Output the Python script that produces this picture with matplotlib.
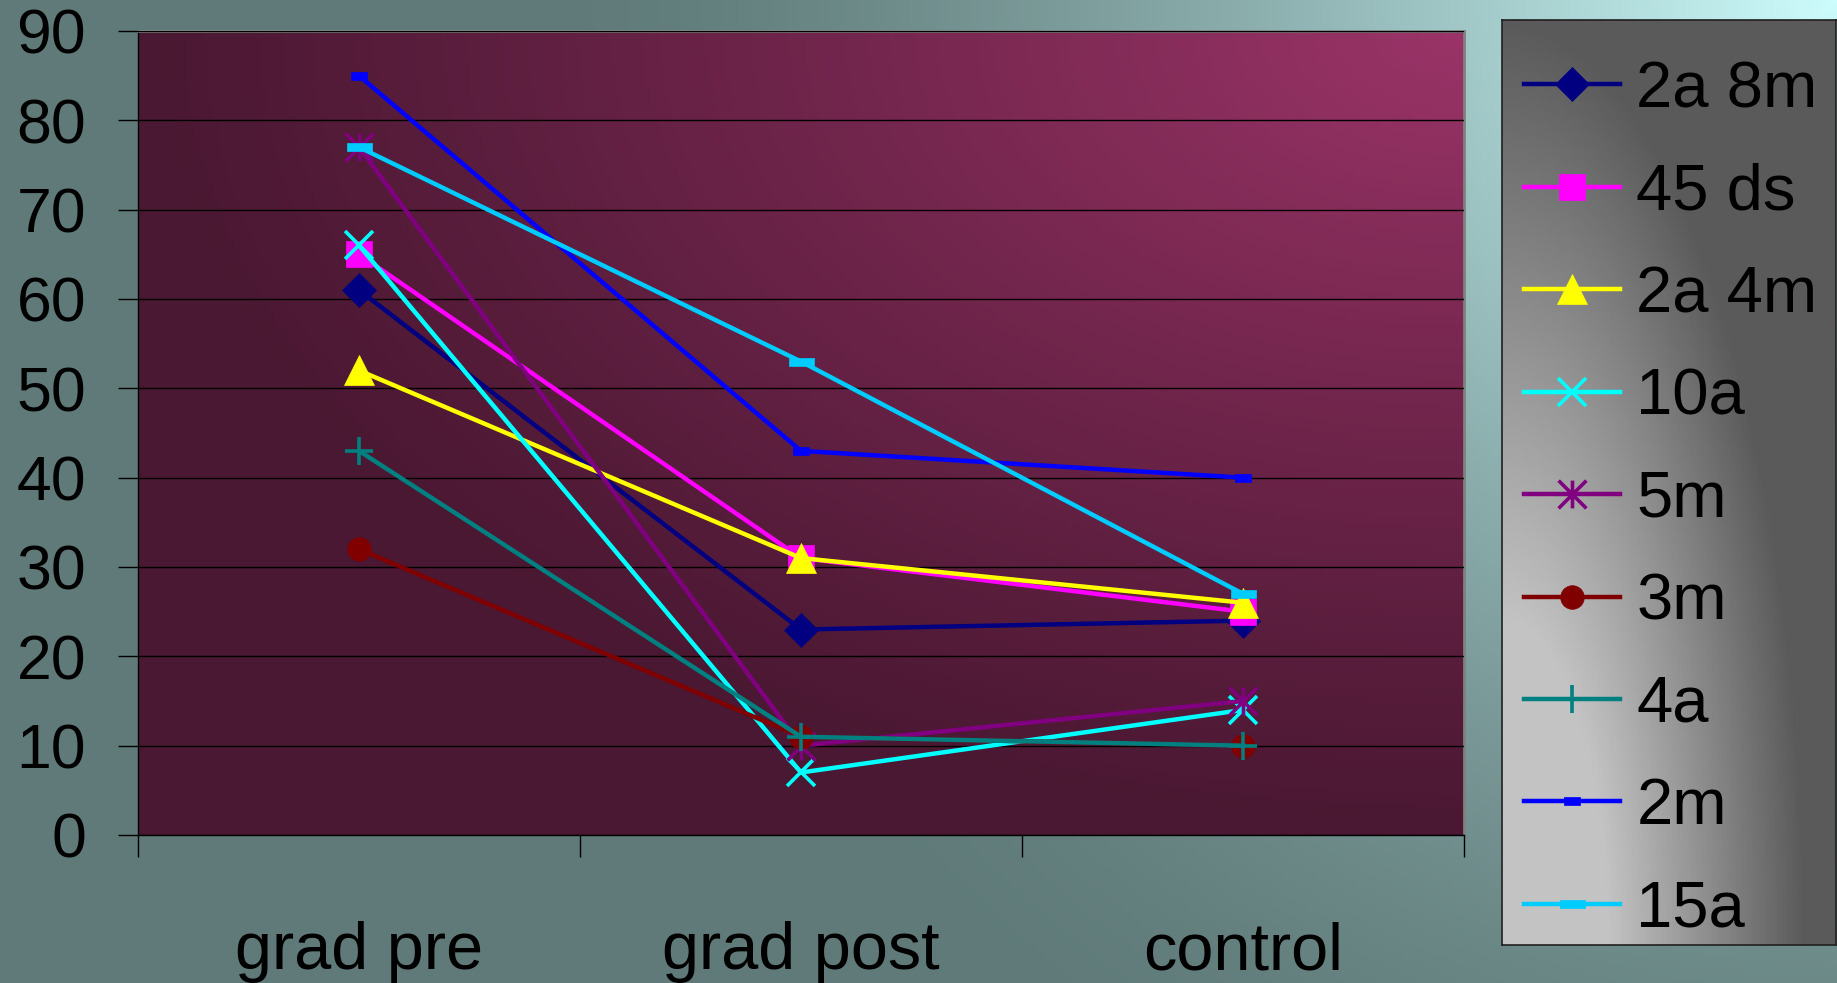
import numpy as np
import matplotlib
matplotlib.use("Agg")
import matplotlib.pyplot as plt
from matplotlib.path import Path

plt.rcParams["font.family"] = ["Liberation Sans", "DejaVu Sans"]

categories = ["grad pre", "grad post", "control"]
series_names = ["2a 8m", "45 ds", "2a 4m", "10a", "5m", "3m", "4a", "2m", "15a"]
s_2a_8m = [61, 23, 24]
s_45_ds = [65, 31, 25]
s_2a_4m = [52, 31, 26]
s_10a = [66, 7, 14]
s_5m = [77, 10, 15]
s_3m = [32, 11, 10]
s_4a = [43, 11, 10]
s_2m = [85, 43, 40]
s_15a = [77, 53, 27]
series_values = [s_2a_8m, s_45_ds, s_2a_4m, s_10a, s_5m, s_3m, s_4a, s_2m, s_15a]

colors = ["#000080", "#FF00FF", "#FFFF00", "#00FFFF", "#800080",
          "#800000", "#008080", "#0000FF", "#00CCFF"]

# excel-ish marker shapes
star = Path([(0, -1), (0, 1), (-1, -1), (1, 1), (-1, 1), (1, -1)],
            [Path.MOVETO, Path.LINETO] * 3)
dash_long = Path([(-1, -0.33), (1, -0.33), (1, 0.33), (-1, 0.33), (-1, -0.33)],
                 [Path.MOVETO, Path.LINETO, Path.LINETO, Path.LINETO, Path.CLOSEPOLY])
dash_short = Path([(-1, -0.45), (1, -0.45), (1, 0.45), (-1, 0.45), (-1, -0.45)],
                  [Path.MOVETO, Path.LINETO, Path.LINETO, Path.LINETO, Path.CLOSEPOLY])
markers = ["D", "s", "^", "x", star, "o", "+", dash_short, dash_long]
msizes = [17, 19, 22, 20, 20, 17, 20, 12, 18]
filled = [True, True, True, False, False, True, False, True, True]

W, H = 1837, 983
fig = plt.figure(figsize=(W / 100, H / 100), dpi=100)

# figure background, light corner at top right
bg = fig.add_axes([0, 0, 1, 1], zorder=-10)
gx, gy = np.meshgrid(np.linspace(0, 1, 400), np.linspace(1, 0, 220))
d = np.sqrt(((1 - gx) * W) ** 2 + ((1 - gy) * H) ** 2) / 1300
f = np.clip(1 - d, 0, 1) ** 1.5
dark = np.array([95, 122, 120]) / 255
light = np.array([205, 252, 252]) / 255
bg.imshow(dark + f[..., None] * (light - dark), extent=[0, 1, 0, 1], aspect="auto")
bg.axis("off")

ax = fig.add_axes([138 / W, 148 / H, 1326 / W, 804 / H], zorder=1)
ax.set_facecolor("none")

# plot area fill
px, py = np.meshgrid(np.linspace(0, 1, 300), np.linspace(1, 0, 200))
d = np.sqrt((1 - px) ** 2 + (1 - py) ** 2)
f = np.clip(1 - d, 0, 1) ** 1.1
pdark = np.array([74, 24, 50]) / 255
pbright = np.array([155, 52, 104]) / 255
ax.imshow(pdark + f[..., None] * (pbright - pdark), extent=[-0.5, 2.5, 0, 90],
          aspect="auto", zorder=0)

x = np.arange(len(categories))
for i in range(len(series_names)):
    kw = dict(color=colors[i], lw=3.2, marker=markers[i], ms=msizes[i],
              label=series_names[i], zorder=3 + i)
    if filled[i]:
        kw.update(markerfacecolor=colors[i], markeredgecolor=colors[i], mew=0.5)
    else:
        kw.update(markerfacecolor="none", markeredgecolor=colors[i], mew=2.6)
    ax.plot(x, series_values[i], **kw)

ax.set_xlim(-0.5, 2.5)
ax.set_ylim(0, 90)
ax.set_yticks(range(0, 91, 10))
ax.yaxis.grid(True, color="black", lw=1, zorder=1)
ax.set_axisbelow(False)
ax.tick_params(axis="y", length=14.4, width=1, pad=23, labelsize=45, direction="out")

ax.set_xticks([-0.5, 0.5, 1.5, 2.5])
ax.set_xticklabels([])
ax.set_xticks(x, minor=True)
ax.set_xticklabels(categories, minor=True)
ax.tick_params(axis="x", which="major", length=16, width=1, direction="out")
ax.tick_params(axis="x", which="minor", length=0, pad=62, labelsize=48)

for side in ["top", "right"]:
    ax.spines[side].set_color("#808080")
    ax.spines[side].set_linewidth(2)
for side in ["left", "bottom"]:
    ax.spines[side].set_color("black")
    ax.spines[side].set_linewidth(1)

# legend box with grey shading
lg = fig.add_axes([1502 / W, 38 / H, 334 / W, 925 / H], zorder=2)
lx, ly = np.meshgrid(np.linspace(0, 1, 100), np.linspace(1, 0, 250))
d = np.sqrt((lx * 1.1) ** 2 + ly ** 2)
f = np.clip((1 - d) / 0.65, 0, 1)
lgdark = np.array([90, 90, 90]) / 255
lglight = np.array([195, 195, 195]) / 255
lg.imshow(lgdark + f[..., None] * (lglight - lgdark), extent=[0, 1, 0, 1], aspect="auto")
lg.set_xticks([])
lg.set_yticks([])
for s in lg.spines.values():
    s.set_color("#202020")
    s.set_linewidth(1.2)

handles, labels = ax.get_legend_handles_labels()
lg.legend(handles, labels, loc="upper left", bbox_to_anchor=(0, 1 - 18 / 925),
          frameon=False, fontsize=47, borderaxespad=0, borderpad=0.34,
          labelspacing=0.65, handlelength=1.46, handletextpad=0.26)

fig.savefig("out.png", dpi=100)
